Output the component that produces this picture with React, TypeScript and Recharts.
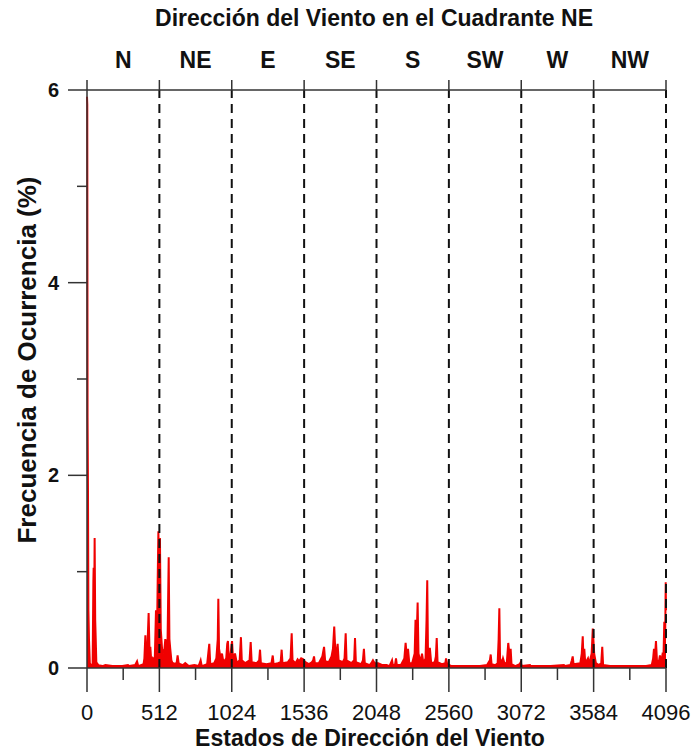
import React from "react";
import {
  ComposedChart,
  Area,
  XAxis,
  YAxis,
  ReferenceLine,
} from "recharts";

// [estado, frecuencia %] por sector
const nPoints = [
  [0, 5.93], [2, 5.85], [4, 2.6], [7, 1.83], [10, 0.6], [14, 0.3], [20, 0.05], [28, 0.03],
  [40, 0.04], [45, 0.9], [47, 1.04], [50, 0.4], [54, 1.35], [58, 0.5], [62, 0.29],
  [66, 0.06], [80, 0.03], [110, 0.02], [130, 0.03], [180, 0.02], [250, 0.02],
  [290, 0.03], [300, 0.02], [340, 0.03], [354, 0.07], [362, 0.02], [400, 0.04],
  [406, 0.1], [413, 0.34], [418, 0.1], [425, 0.12], [436, 0.57], [442, 0.2],
  [448, 0.22], [455, 0.06], [465, 0.1], [472, 0.08], [480, 0.12], [488, 0.6],
  [495, 0.3], [500, 0.9], [505, 1.42], [510, 1.0],
];
const nePoints = [
  [516, 1.35], [522, 0.4], [531, 0.2], [540, 0.15], [548, 0.2], [554, 0.3],
  [560, 0.2], [570, 0.3], [578, 1.15], [583, 0.3], [589, 0.2], [597, 0.08],
  [605, 0.05], [613, 0.05], [625, 0.04], [635, 0.06], [641, 0.13], [648, 0.05],
  [660, 0.04], [680, 0.03], [695, 0.05], [720, 0.02], [760, 0.03], [790, 0.02],
  [804, 0.08], [812, 0.02], [850, 0.04], [865, 0.25], [872, 0.04], [900, 0.05],
  [915, 0.1], [925, 0.3], [929, 0.72], [934, 0.2], [945, 0.1], [955, 0.15],
  [965, 0.06], [985, 0.1], [992, 0.25], [997, 0.28], [1003, 0.1], [1012, 0.1],
  [1020, 0.2],
];
const ePoints = [
  [1026, 0.28], [1032, 0.12], [1040, 0.1], [1047, 0.15], [1060, 0.05], [1080, 0.08],
  [1089, 0.32], [1095, 0.08], [1120, 0.05], [1150, 0.08], [1158, 0.27], [1165, 0.06],
  [1200, 0.05], [1218, 0.08], [1224, 0.19], [1230, 0.05], [1270, 0.04], [1305, 0.05],
  [1314, 0.13], [1320, 0.04], [1350, 0.05], [1370, 0.06], [1377, 0.19], [1383, 0.05],
  [1420, 0.06], [1440, 0.1], [1448, 0.36], [1454, 0.08], [1475, 0.05], [1490, 0.09],
  [1500, 0.07], [1515, 0.1], [1530, 0.09],
];
const sePoints = [
  [1545, 0.06], [1570, 0.04], [1590, 0.06], [1600, 0.08], [1606, 0.12], [1612, 0.05],
  [1640, 0.05], [1665, 0.12], [1677, 0.22], [1685, 0.07], [1710, 0.06], [1730, 0.12],
  [1740, 0.2], [1749, 0.43], [1756, 0.2], [1765, 0.15], [1773, 0.25], [1780, 0.08],
  [1810, 0.06], [1822, 0.1], [1830, 0.36], [1836, 0.08], [1870, 0.05], [1890, 0.08],
  [1896, 0.31], [1902, 0.06], [1940, 0.04], [1952, 0.08], [1959, 0.2], [1965, 0.05],
  [2000, 0.03], [2015, 0.06], [2023, 0.08], [2035, 0.05],
];
const sPoints = [
  [2060, 0.05], [2090, 0.03], [2120, 0.03], [2140, 0.02], [2158, 0.08], [2165, 0.02],
  [2180, 0.04], [2186, 0.1], [2192, 0.03], [2220, 0.03], [2245, 0.1], [2254, 0.26],
  [2262, 0.12], [2271, 0.2], [2280, 0.05], [2300, 0.05], [2318, 0.15], [2324, 0.5],
  [2332, 0.3], [2339, 0.68], [2345, 0.15], [2360, 0.06], [2370, 0.15], [2380, 0.05],
  [2395, 0.1], [2402, 0.5], [2407, 0.91], [2412, 0.2], [2426, 0.2], [2435, 0.05],
  [2460, 0.06], [2468, 0.12], [2474, 0.31], [2480, 0.06], [2510, 0.04], [2535, 0.05],
  [2540, 0.1], [2548, 0.04],
];
const swPoints = [
  [2580, 0.02], [2620, 0.02], [2674, 0.02], [2720, 0.02], [2780, 0.02], [2830, 0.03],
  [2850, 0.08], [2856, 0.14], [2862, 0.04], [2890, 0.03], [2905, 0.05], [2912, 0.3],
  [2917, 0.62], [2922, 0.1], [2935, 0.05], [2943, 0.1], [2955, 0.04], [2970, 0.06],
  [2980, 0.26], [2988, 0.15], [2997, 0.2], [3003, 0.04], [3030, 0.02], [3060, 0.04],
  [3068, 0.06],
];
const wPoints = [
  [3075, 0.02], [3134, 0.03], [3140, 0.02], [3200, 0.02], [3280, 0.02], [3374, 0.03],
  [3380, 0.02], [3420, 0.03], [3430, 0.08], [3436, 0.12], [3442, 0.04], [3490, 0.05],
  [3500, 0.15], [3507, 0.33], [3512, 0.1], [3518, 0.2], [3525, 0.05], [3544, 0.1],
  [3552, 0.04], [3570, 0.15], [3578, 0.41],
];
const nwPoints = [
  [3588, 0.15], [3600, 0.05], [3620, 0.03], [3638, 0.05], [3645, 0.22], [3651, 0.03],
  [3700, 0.02], [3800, 0.02], [3900, 0.02], [3947, 0.02], [3955, 0.02], [3995, 0.03],
  [4005, 0.1], [4011, 0.2], [4018, 0.12], [4025, 0.28], [4032, 0.08], [4045, 0.06],
  [4053, 0.13], [4060, 0.05], [4070, 0.13], [4078, 0.1], [4084, 0.48], [4090, 0.3],
  [4094, 0.89], [4096, 0.6],
];

const directions = ["N", "NE", "E", "SE", "S", "SW", "W", "NW"];
const sectorBounds = [0, 512, 1024, 1536, 2048, 2560, 3072, 3584, 4096];
const xTicks = [0, 256, 512, 768, 1024, 1280, 1536, 1792, 2048, 2304, 2560, 2816, 3072, 3328, 3584, 3840, 4096];
const yTicks = [0, 1, 2, 3, 4, 5, 6];

const data = [
  ...nPoints, ...nePoints, ...ePoints, ...sePoints,
  ...sPoints, ...swPoints, ...wPoints, ...nwPoints,
].map(([state, freq]) => ({ state, freq }));

const FONT = "'Liberation Sans', Arial, sans-serif";
const AXIS = "#333";

const BottomTick = (props: any) => {
  const { x, y, payload } = props;
  const major = payload.value % 512 === 0;
  return (
    <g>
      <line x1={x} x2={x} y1={y} y2={y + (major ? 24 : 12)} stroke={AXIS} strokeWidth={1.5} />
      {major && (
        <text x={x} y={y + 52} textAnchor="middle" fontSize={22} fontFamily={FONT} fill="#111">
          {payload.value}
        </text>
      )}
    </g>
  );
};

const TopTick = (props: any) => {
  const { x, y, payload } = props;
  if (payload.value % 512 === 0) {
    return <line x1={x} x2={x} y1={y - 10} y2={y} stroke={AXIS} strokeWidth={1.5} />;
  }
  return (
    <text x={x} y={y - 22} textAnchor="middle" fontSize={23} fontWeight="bold" fontFamily={FONT} fill="#111">
      {directions[(payload.value - 256) / 512]}
    </text>
  );
};

const LeftTick = (props: any) => {
  const { x, y, payload } = props;
  const major = payload.value % 2 === 0;
  const len = major ? 19 : 10;
  return (
    <g>
      <line x1={x - len} x2={x} y1={y} y2={y} stroke={AXIS} strokeWidth={1.5} />
      {major && (
        <text x={x - len - 9} y={y + 7} textAnchor="end" fontSize={20} fontWeight="bold" fontFamily={FONT} fill="#111">
          {payload.value}
        </text>
      )}
    </g>
  );
};

export default function App() {
  return (
    <div style={{ position: "absolute", left: 0, top: 0, background: "#fff" }}>
      <ComposedChart
        width={693}
        height={751}
        data={data}
        margin={{ top: 60, right: 27, bottom: 43, left: 27 }}
      >
        <text x={374} y={26} textAnchor="middle" fontSize={23} fontWeight="bold" fontFamily={FONT} fill="#111">
          Dirección del Viento en el Cuadrante NE
        </text>
        <text
          x={0}
          y={0}
          transform="translate(36, 360) rotate(-90)"
          textAnchor="middle"
          fontSize={26}
          fontWeight="bold"
          fontFamily={FONT}
          fill="#111"
        >
          Frecuencia de Ocurrencia (%)
        </text>
        <text x={370} y={746} textAnchor="middle" fontSize={23} fontWeight="bold" fontFamily={FONT} fill="#111">
          Estados de Dirección del Viento
        </text>
        <XAxis
          dataKey="state"
          type="number"
          domain={[0, 4096]}
          ticks={xTicks}
          interval={0}
          height={40}
          tickSize={0}
          tickMargin={0}
          tickLine={false}
          tick={<BottomTick />}
          axisLine={{ stroke: AXIS, strokeWidth: 1.5 }}
        />
        <XAxis
          xAxisId="top"
          orientation="top"
          dataKey="state"
          type="number"
          domain={[0, 4096]}
          ticks={xTicks}
          interval={0}
          height={30}
          tickSize={0}
          tickMargin={0}
          tickLine={false}
          tick={<TopTick />}
          axisLine={{ stroke: AXIS, strokeWidth: 1.5 }}
        />
        <YAxis
          type="number"
          domain={[0, 6]}
          ticks={yTicks}
          interval={0}
          width={60}
          tickSize={0}
          tickMargin={0}
          tickLine={false}
          tick={<LeftTick />}
          axisLine={{ stroke: AXIS, strokeWidth: 1.5 }}
        />
        {sectorBounds.slice(1).map((b) => (
          <ReferenceLine key={b} x={b} stroke="#111" strokeWidth={2} strokeDasharray="9 6" />
        ))}
        <Area
          type="linear"
          dataKey="freq"
          stroke="#f00000"
          strokeWidth={2}
          fill="#f00000"
          fillOpacity={1}
          dot={false}
          activeDot={false}
          isAnimationActive={false}
        />
      </ComposedChart>
    </div>
  );
}
